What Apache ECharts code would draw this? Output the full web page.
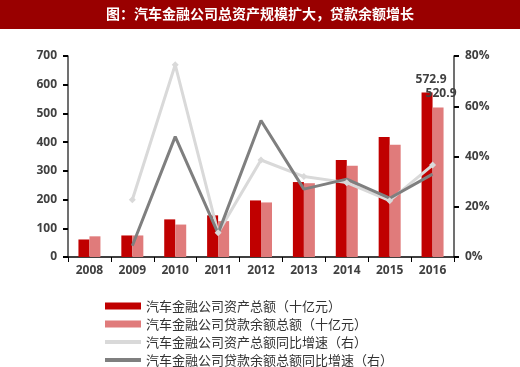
<!DOCTYPE html>
<html><head><meta charset="utf-8">
<script src="https://cdn.jsdelivr.net/npm/echarts@6/dist/echarts.min.js"></script>
<style>html,body{margin:0;padding:0;background:#fff}#c{width:520px;height:367px}</style>
</head><body><div id="c"></div>
<script>
const titleText = '图：汽车金融公司总资产规模扩大，贷款余额增长';
const categories = ['2008','2009','2010','2011','2012','2013','2014','2015','2016'];
const assetTotal = [61, 75, 131, 145, 197, 261, 338, 418, 572.9];
const loanTotal = [72, 75, 113, 125, 190, 257, 318, 391, 520.9];
const assetGrowth = [null, 22.8, 76.5, 9.7, 38.6, 32.0, 29.6, 22.4, 36.6];
const loanGrowth = [null, 4.5, 47.9, 9.4, 54.3, 27.0, 31.0, 23.4, 33.0];
const seriesNames = ['汽车金融公司资产总额（十亿元）','汽车金融公司贷款余额总额（十亿元）','汽车金融公司资产总额同比增速（右）','汽车金融公司贷款余额总额同比增速（右）'];

const chart = echarts.init(document.getElementById('c'), null, {renderer:'canvas'});
const axisLabelStyle = {color:'#404040', fontSize:12, fontWeight:'bold', fontFamily:'"Open Sans", "DejaVu Sans", sans-serif'};
const lastIdx = categories.length - 1;
const lineIcon = 'path://M0,0 L36,0 L36,4 L0,4 Z';
chart.setOption({
  animation:false,
  graphic:[
    {type:'rect', shape:{x:0,y:0,width:520,height:29}, style:{fill:'#990000'}},
    {type:'text', left:'center', top:7, style:{text:titleText, fill:'#fff', font:'bold 14px "Noto Sans CJK SC", sans-serif'}}
  ],
  grid:{left:68, right:66, top:56, bottom:110},
  legend:{
    orient:'vertical', left:100, top:294, height:100, itemGap:4, itemWidth:36, itemHeight:7,
    textStyle:{color:'#333', fontSize:13, lineHeight:14, fontFamily:'"Noto Sans CJK SC", sans-serif'},
    data:[
      {name:seriesNames[0], icon:'rect'},
      {name:seriesNames[1], icon:'rect'},
      {name:seriesNames[2], icon:lineIcon},
      {name:seriesNames[3], icon:lineIcon}
    ]
  },
  xAxis:{
    type:'category', data:categories,
    axisLine:{lineStyle:{color:'#000', width:1.5}},
    axisTick:{show:true, alignWithLabel:false, length:5, lineStyle:{color:'#000'}},
    axisLabel:Object.assign({margin:8}, axisLabelStyle)
  },
  yAxis:[
    {type:'value', min:0, max:700, interval:100,
     axisLine:{show:true, lineStyle:{color:'#404040', width:1.5}},
     axisTick:{show:true, length:5, lineStyle:{color:'#000', width:2}},
     splitLine:{show:false},
     axisLabel:Object.assign({margin:11}, axisLabelStyle)},
    {type:'value', min:0, max:80, interval:20,
     axisLine:{show:true, lineStyle:{color:'#404040', width:1.5}},
     axisTick:{show:true, length:5, lineStyle:{color:'#000', width:2}},
     splitLine:{show:false},
     axisLabel:Object.assign({margin:11, formatter:'{value}%'}, axisLabelStyle)}
  ],
  series:[
    {name:seriesNames[0], type:'bar', barWidth:11, barGap:'0%', itemStyle:{color:'#c00000'},
     data:assetTotal.map((v,i)=> i===lastIdx ? {value:v, label:{show:true, position:'top', offset:[4,-2], color:'#404040', fontSize:12, fontWeight:'bold', fontFamily:'"Open Sans", sans-serif'}} : v)},
    {name:seriesNames[1], type:'bar', barWidth:11, itemStyle:{color:'#e07b7b'},
     data:loanTotal.map((v,i)=> i===lastIdx ? {value:v, label:{show:true, position:'top', offset:[3,-3], color:'#404040', fontSize:12, fontWeight:'bold', fontFamily:'"Open Sans", sans-serif'}} : v)},
    {name:seriesNames[2], type:'line', yAxisIndex:1, data:assetGrowth, symbol:'diamond', symbolSize:7, showSymbol:true,
     lineStyle:{color:'#d9d9d9', width:3}, itemStyle:{color:'#d9d9d9'}},
    {name:seriesNames[3], type:'line', yAxisIndex:1, data:loanGrowth, symbol:'none',
     lineStyle:{color:'#7f7f7f', width:3}, itemStyle:{color:'#7f7f7f'}}
  ]
});
</script></body></html>
